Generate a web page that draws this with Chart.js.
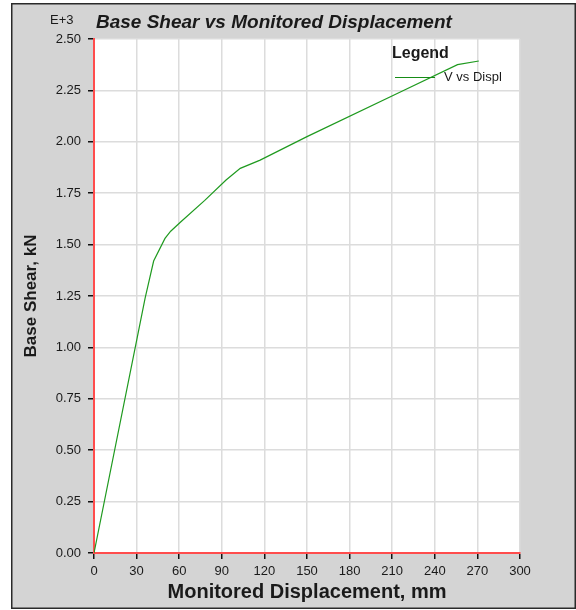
<!DOCTYPE html>
<html lang="en">
<head>
	<meta charset="UTF-8">
	<title>Base Shear vs Monitored Displacement</title>
	<script src="https://cdn.jsdelivr.net/npm/chart.js@4.4.1/dist/chart.umd.min.js"></script>
	<style>
		html, body { margin: 0; padding: 0; background: #ffffff; }
		#wrap { width: 576px; height: 610px; }
	</style>
</head>
<body>
	<div id="wrap">
		<canvas id="grafico_pushover" width="576" height="610"></canvas>
	</div>
	<script>

		// pushover curve: displacement (mm) and base shear (x 10^3 kN)
		const deslocamento = [0, 36, 42, 50, 54, 61, 78, 93, 103, 117, 150, 215, 256, 271];
		const cortante = [0, 1.24, 1.42, 1.53, 1.565, 1.61, 1.715, 1.814, 1.871, 1.911, 2.025, 2.24, 2.375, 2.393];

		const ticksX = [0, 30, 60, 90, 120, 150, 180, 210, 240, 270, 300];
		const ticksY = [0, 0.25, 0.5, 0.75, 1, 1.25, 1.5, 1.75, 2, 2.25, 2.5];

		const fonte = "'Liberation Sans', Arial, sans-serif";
		const corTexto = '#1a1a1a';
		const corLinha = '#1f9a1f';

		// gray frame, white plot area, title and legend box
		const moldura = {
			id: 'moldura',
			beforeDraw(chart) {
				const {ctx, chartArea: a} = chart;
				ctx.save();
				ctx.fillStyle = '#ffffff';
				ctx.fillRect(0, 0, chart.width, chart.height);
				ctx.fillStyle = '#d4d4d4';
				ctx.fillRect(12, 4, 563, 604);
				ctx.strokeStyle = '#2a2a2a';
				ctx.lineWidth = 1.5;
				ctx.strokeRect(11.75, 3.75, 563.5, 604.5);
				ctx.fillStyle = '#ffffff';
				ctx.fillRect(a.left, a.top, a.right - a.left, a.bottom - a.top);
				ctx.restore();
			},
			afterDraw(chart) {
				const {ctx} = chart;
				ctx.save();
				ctx.fillStyle = corTexto;
				ctx.textAlign = 'left';
				ctx.textBaseline = 'alphabetic';
				ctx.font = '13px ' + fonte;
				ctx.fillText('E+3', 50, 24);
				ctx.font = 'italic bold 19px ' + fonte;
				ctx.fillText('Base Shear vs Monitored Displacement', 96, 27.5);

				ctx.font = 'bold 16px ' + fonte;
				ctx.fillText('Legend', 392, 58);
				ctx.strokeStyle = '#168c16';
				ctx.lineWidth = 1;
				ctx.beginPath();
				ctx.moveTo(395, 77.5);
				ctx.lineTo(435, 77.5);
				ctx.stroke();
				ctx.font = '13px ' + fonte;
				ctx.fillText('V vs Displ', 444, 80.5);
				ctx.restore();
			}
		};

		const pontos = deslocamento.map((d, i) => ({ x: d, y: cortante[i] }));

		new Chart(document.querySelector('#grafico_pushover'), {
			type: 'line',
			data: {
				datasets: [{
					label: 'V vs Displ',
					data: pontos,
					borderColor: corLinha,
					borderWidth: 1.2,
					pointRadius: 0,
					tension: 0,
					fill: false
				}]
			},
			options: {
				responsive: false,
				animation: false,
				layout: {
					padding: { top: 39, right: 56, left: 0, bottom: 0 }
				},
				plugins: {
					legend: { display: false },
					tooltip: { enabled: false }
				},
				scales: {
					x: {
						type: 'linear',
						min: 0,
						max: 300,
						afterBuildTicks: (eixo) => { eixo.ticks = ticksX.map(v => ({ value: v })); },
						afterFit: (eixo) => { eixo.height = 57; },
						grid: {
							color: '#dcdcdc',
							lineWidth: 1.5,
							tickColor: '#111111',
							tickLength: 6,
							tickWidth: 1.5
						},
						border: { color: '#ff4d4d', width: 2 },
						ticks: {
							color: corTexto,
							padding: 5,
							maxRotation: 0,
							font: { family: fonte, size: 13 }
						},
						title: {
							display: true,
							text: 'Monitored Displacement, mm',
							color: corTexto,
							padding: { top: 0, bottom: 6 },
							font: { family: fonte, size: 20, weight: 'bold' }
						}
					},
					y: {
						type: 'linear',
						min: 0,
						max: 2.5,
						afterBuildTicks: (eixo) => { eixo.ticks = ticksY.map(v => ({ value: v })); },
						afterFit: (eixo) => { eixo.width = 94; },
						grid: {
							color: '#dcdcdc',
							lineWidth: 1.5,
							tickColor: '#111111',
							tickLength: 6,
							tickWidth: 1.5
						},
						border: { color: '#ff4d4d', width: 2 },
						ticks: {
							color: corTexto,
							padding: 7,
							font: { family: fonte, size: 13 },
							callback: (v) => Number(v).toFixed(2)
						},
						title: {
							display: true,
							text: 'Base Shear, kN',
							color: corTexto,
							padding: { top: 21, bottom: 0 },
							font: { family: fonte, size: 17, weight: 'bold' }
						}
					}
				}
			},
			plugins: [moldura]
		});

	</script>
</body>
</html>
